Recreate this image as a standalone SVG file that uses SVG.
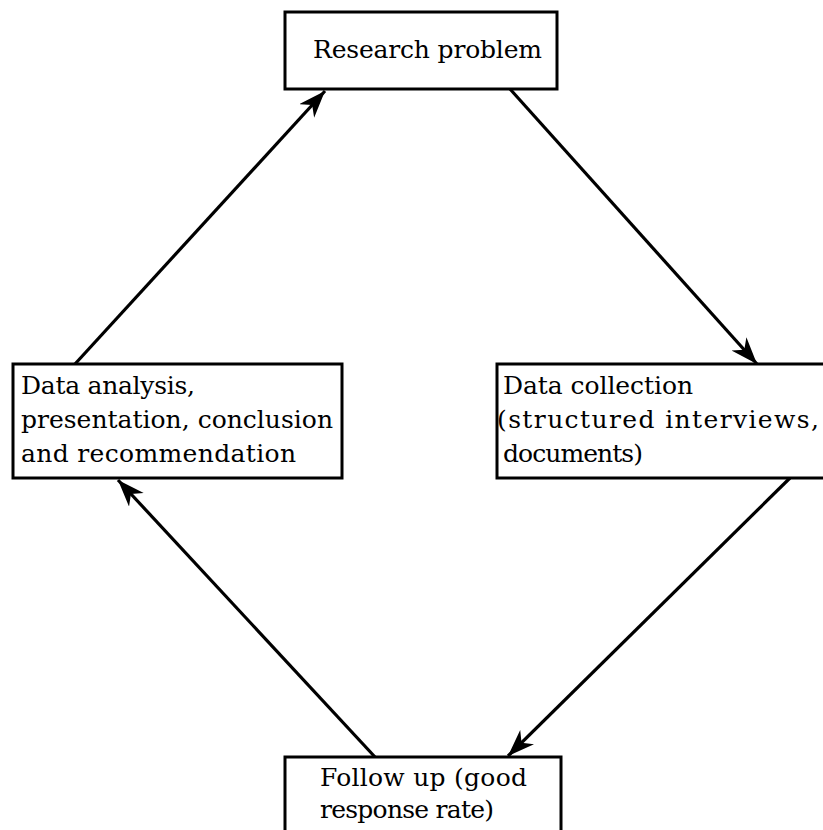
<svg xmlns="http://www.w3.org/2000/svg" width="823" height="830" viewBox="0 0 823 830">
<style>
.box{fill:#fff;stroke:#000;stroke-width:3}
.lbl{font-family:"DejaVu Serif","Liberation Serif",serif;font-size:25px;fill:#000}
.con{stroke:#000;stroke-width:3.2;fill:none;marker-end:url(#ah)}
</style>
<defs>
<marker id="ah" markerUnits="userSpaceOnUse" markerWidth="30" markerHeight="22" refX="27" refY="10" orient="auto">
<path d="M0,0 L27,10 L0,20 L8,10 z" fill="#000"/>
</marker>
</defs>
<rect width="823" height="830" fill="#fff"/>
<g id="connectors">
<line class="con" x1="75" y1="364" x2="325" y2="91"/>
<line class="con" x1="510" y1="89" x2="757" y2="364"/>
<line class="con" x1="790" y1="478" x2="508" y2="756"/>
<line class="con" x1="375" y1="757" x2="118" y2="480"/>
</g>
<g id="research-problem">
<rect class="box" x="285" y="12" width="272" height="77"/>
<text class="lbl" x="313" y="58" textLength="229">Research problem</text>
</g>
<g id="data-analysis">
<rect class="box" x="13" y="364" width="329" height="114"/>
<text class="lbl" x="21" y="394" textLength="174">Data analysis,</text>
<text class="lbl" x="21" y="428" textLength="312">presentation, conclusion</text>
<text class="lbl" x="21" y="462" textLength="275">and  recommendation</text>
</g>
<g id="data-collection">
<rect class="box" x="497" y="364" width="340" height="114"/>
<text class="lbl" x="503" y="394" textLength="190">Data collection</text>
<text class="lbl" x="497" y="428" textLength="322">(structured interviews,</text>
<text class="lbl" x="503" y="462" textLength="140">documents)</text>
</g>
<g id="follow-up">
<rect class="box" x="285" y="757" width="276" height="90"/>
<text class="lbl" x="320" y="786" textLength="207">Follow up (good</text>
<text class="lbl" x="320" y="818" textLength="174">response rate)</text>
</g>
</svg>
